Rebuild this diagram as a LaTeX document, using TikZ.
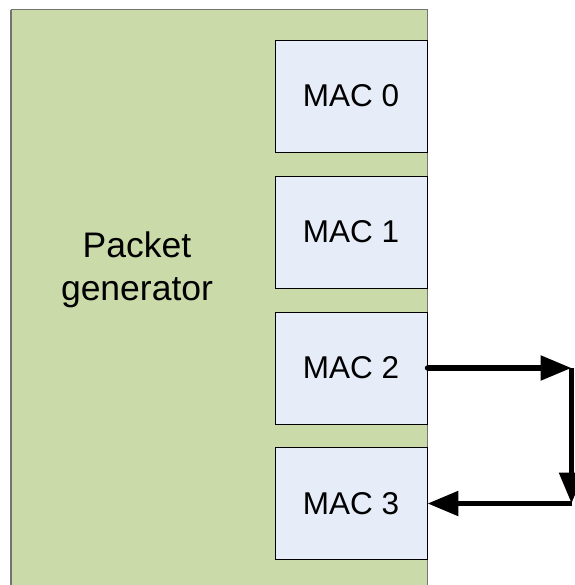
\documentclass[tikz,border=0pt]{standalone}
\usepackage{fontspec}
\setmainfont{Liberation Sans}
\usetikzlibrary{arrows.meta}
\definecolor{pgreen}{RGB}{202,218,169}
\definecolor{macfill}{RGB}{230,237,248}
\begin{document}
\begin{tikzpicture}[x=1pt,y=-1pt,
  macbox/.style={draw=black,line width=0.9pt,fill=macfill,minimum width=152pt,minimum height=112pt,inner sep=0pt,font=\fontsize{31.5}{37}\selectfont},
  conn/.style={line width=5.5pt,-{Triangle[length=31pt,width=24pt]}},
]
\useasboundingbox (0,0) rectangle (574,585);
\fill[white] (0,0) rectangle (574,585);
% packet generator block
\filldraw[fill=pgreen,draw=black!55,line width=1pt] (11,10) rectangle (427,600);
\draw[black!55,line width=2pt] (11,10) -- (11,600);
\node[align=center,inner sep=0pt,font=\fontsize{35.5}{43.3}\selectfont] (pg) at (137,269.5) {Packet\\generator};
% MAC boxes
\node[macbox] (mac0) at (351,96) {MAC 0};
\node[macbox] (mac1) at (351,232) {MAC 1};
\node[macbox] (mac2) at (351,368) {MAC 2};
\node[macbox] (mac3) at (351,503.5) {MAC 3};
% loopback connector
\coordinate (c1) at (571.5,368);
\coordinate (c2) at (571.5,503.5);
\fill (mac2.east) circle (2.7pt);
\draw[conn] (mac2.east) -- (c1);
\draw[conn] (c1) -- (c2);
\draw[conn] (c2) -- (mac3.east);
\end{tikzpicture}
\end{document}
